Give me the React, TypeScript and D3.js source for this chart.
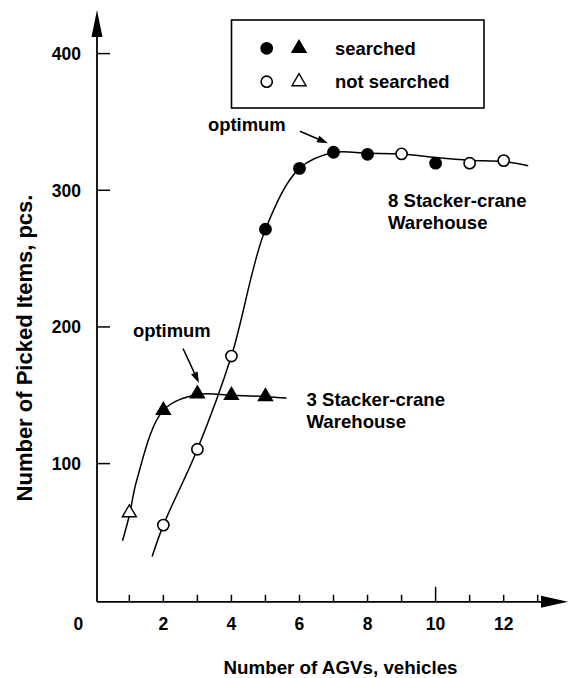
import React from 'react';
import * as d3 from 'd3';

// ---- data ----
const agvCounts8 = [2, 3, 4, 5, 6, 7, 8, 9, 10, 11, 12];
const pickedItems8 = [55, 110.5, 178.7, 271.5, 316, 327.8, 326.3, 326.6, 319.8, 319.8, 321.7];
const searched8 = [false, false, false, true, true, true, true, false, true, false, false];

const agvCounts3 = [1, 2, 3, 4, 5];
const pickedItems3 = [64, 139, 151, 150, 149];
const searched3 = [false, true, true, true, true];

// fitted curves (hand-drawn smooth lines in the reference)
const fitX8 = [1.67, 2, 3, 4, 5, 6, 7, 8, 9, 10, 11, 12, 12.72];
const fitY8 = [32, 55, 110.5, 178.7, 271.5, 316, 327.6, 327, 326.5, 324, 322, 321, 318];
const fitX3 = [0.8, 1, 1.22, 2, 3, 4, 5, 5.62];
const fitY3 = [43.6, 62, 88, 139, 150.5, 150, 149, 148];

const xTickValues = [1, 2, 3, 4, 5, 6, 7, 8, 9, 10, 11, 12, 13];
const xTickLabels = [0, 2, 4, 6, 8, 10, 12];
const yTickValues = [100, 200, 300, 400];

const legendLabels = ['searched', 'not searched'];
const seriesLabels8 = ['8 Stacker-crane', 'Warehouse'];
const seriesLabels3 = ['3 Stacker-crane', 'Warehouse'];

const FONT = '"Liberation Sans", Arial, Helvetica, sans-serif';

const x = d3.scaleLinear().domain([0, 13]).range([95.3, 537.7]);
const y = d3.scaleLinear().domain([100, 400]).range([463.6, 53.6]);

const AXIS_X = 97;
const AXIS_Y = 601.8;

const line = d3
  .line<[number, number]>()
  .x((d) => x(d[0]))
  .y((d) => y(d[1]))
  .curve(d3.curveCatmullRom.alpha(0.5));

function tri(cx: number, cy: number, w = 14, h = 12) {
  const p = d3.path();
  p.moveTo(cx, cy - (2 * h) / 3);
  p.lineTo(cx + w / 2, cy + h / 3);
  p.lineTo(cx - w / 2, cy + h / 3);
  p.closePath();
  return p.toString();
}

function Circle({ cx, cy, filled }: { cx: number; cy: number; filled: boolean }) {
  return <circle cx={cx} cy={cy} r={5.6} fill={filled ? '#000' : '#fff'} stroke="#000" strokeWidth={1.6} />;
}
function Tri({ cx, cy, filled }: { cx: number; cy: number; filled: boolean }) {
  return <path d={tri(cx, cy)} fill={filled ? '#000' : '#fff'} stroke="#000" strokeWidth={1.4} strokeLinejoin="miter" />;
}

function Arrow({ x1, y1, x2, y2 }: { x1: number; y1: number; x2: number; y2: number }) {
  const ang = Math.atan2(y2 - y1, x2 - x1);
  const L = 11;
  const W = 3.6;
  const bx = x2 - L * Math.cos(ang);
  const by = y2 - L * Math.sin(ang);
  const px = -Math.sin(ang) * W;
  const py = Math.cos(ang) * W;
  return (
    <g>
      <line x1={x1} y1={y1} x2={bx} y2={by} stroke="#000" strokeWidth={1.5} />
      <path d={`M${x2},${y2}L${bx + px},${by + py}L${bx - px},${by - py}Z`} fill="#000" />
    </g>
  );
}

export default function App() {
  const fit8 = fitX8.map((v, i) => [v, fitY8[i]] as [number, number]);
  const fit3 = fitX3.map((v, i) => [v, fitY3[i]] as [number, number]);
  const textStyle = { fontFamily: FONT, fontWeight: 700 as const, fill: '#000' };

  const opt8 = { px: x(7), py: y(327.8) };
  const opt3 = { px: x(3), py: y(151) };

  return (
    <svg
      width={570}
      height={678}
      style={{ position: 'absolute', left: 0, top: 0, background: '#fff' }}
      viewBox="0 0 570 678"
    >
      <rect width={570} height={678} fill="#fff" />
      {/* axes */}
      <line x1={AXIS_X} y1={AXIS_Y} x2={AXIS_X} y2={30} stroke="#000" strokeWidth={1.8} />
      <path d={`M${AXIS_X},10L${AXIS_X + 5.5},37L${AXIS_X - 5.5},37Z`} fill="#000" />
      <line x1={AXIS_X} y1={AXIS_Y} x2={548} y2={AXIS_Y} stroke="#000" strokeWidth={1.8} />
      <path d={`M568,${AXIS_Y}L541,${AXIS_Y - 6}L541,${AXIS_Y + 6}Z`} fill="#000" />

      {yTickValues.map((v) => (
        <g key={'yt' + v}>
          <line x1={AXIS_X} x2={AXIS_X + 13} y1={y(v)} y2={y(v)} stroke="#000" strokeWidth={1.5} />
          <text x={81} y={y(v) + 6.3} textAnchor="end" fontSize={17.5} style={textStyle}>
            {v}
          </text>
        </g>
      ))}
      {xTickValues.map((v) => (
        <line
          key={'xt' + v}
          x1={x(v)}
          x2={x(v)}
          y1={AXIS_Y}
          y2={AXIS_Y - (v === 10 ? 15 : 7)}
          stroke="#000"
          strokeWidth={1.5}
        />
      ))}
      {xTickLabels.map((v) => (
        <text
          key={'xl' + v}
          x={v === 0 ? x(0) - 17 : x(v)}
          y={629.5}
          textAnchor="middle"
          fontSize={17.5}
          style={textStyle}
        >
          {v}
        </text>
      ))}

      {/* axis titles */}
      <text x={340.5} y={673.5} textAnchor="middle" fontSize={18.8} style={textStyle}>
        Number of AGVs, vehicles
      </text>
      <text
        transform="translate(31.5,348) rotate(-90)"
        textAnchor="middle"
        fontSize={22}
        style={textStyle}
      >
        Number of Picked Items,  pcs.
      </text>

      {/* curves */}
      <path d={line(fit8) || ''} fill="none" stroke="#000" strokeWidth={1.5} />
      <path d={line(fit3) || ''} fill="none" stroke="#000" strokeWidth={1.5} />

      {/* markers */}
      {agvCounts8.map((v, i) => (
        <Circle key={'c' + v} cx={x(v)} cy={y(pickedItems8[i])} filled={searched8[i]} />
      ))}
      {agvCounts3.map((v, i) => (
        <Tri key={'t' + v} cx={x(v)} cy={y(pickedItems3[i])} filled={searched3[i]} />
      ))}

      {/* legend */}
      <rect x={231.5} y={20} width={252.5} height={88} fill="#fff" stroke="#000" strokeWidth={1.6} />
      <Circle cx={266.7} cy={48.3} filled={true} />
      <Tri cx={299} cy={48.3} filled={true} />
      <Circle cx={266.7} cy={81.7} filled={false} />
      <Tri cx={299} cy={81.7} filled={false} />
      <text x={335} y={54.5} fontSize={18.4} style={textStyle}>
        {legendLabels[0]}
      </text>
      <text x={335} y={88} fontSize={18.4} style={textStyle}>
        {legendLabels[1]}
      </text>

      {/* annotations */}
      <text x={208} y={131} fontSize={18.4} style={textStyle}>
        optimum
      </text>
      <Arrow x1={opt8.px - 33.5} y1={opt8.py - 21} x2={opt8.px - 5.5} y2={opt8.py - 9} />
      <text x={133} y={337} fontSize={18.4} style={textStyle}>
        optimum
      </text>
      <Arrow x1={opt3.px - 14.4} y1={opt3.py - 45.4} x2={opt3.px + 1.6} y2={opt3.py - 11} />

      <text x={388} y={206.5} fontSize={18.6} style={textStyle}>
        {seriesLabels8[0]}
      </text>
      <text x={388} y={228.5} fontSize={18.6} style={textStyle}>
        {seriesLabels8[1]}
      </text>
      <text x={306.5} y={405.5} fontSize={18.6} style={textStyle}>
        {seriesLabels3[0]}
      </text>
      <text x={306.5} y={428} fontSize={18.6} style={textStyle}>
        {seriesLabels3[1]}
      </text>
    </svg>
  );
}
